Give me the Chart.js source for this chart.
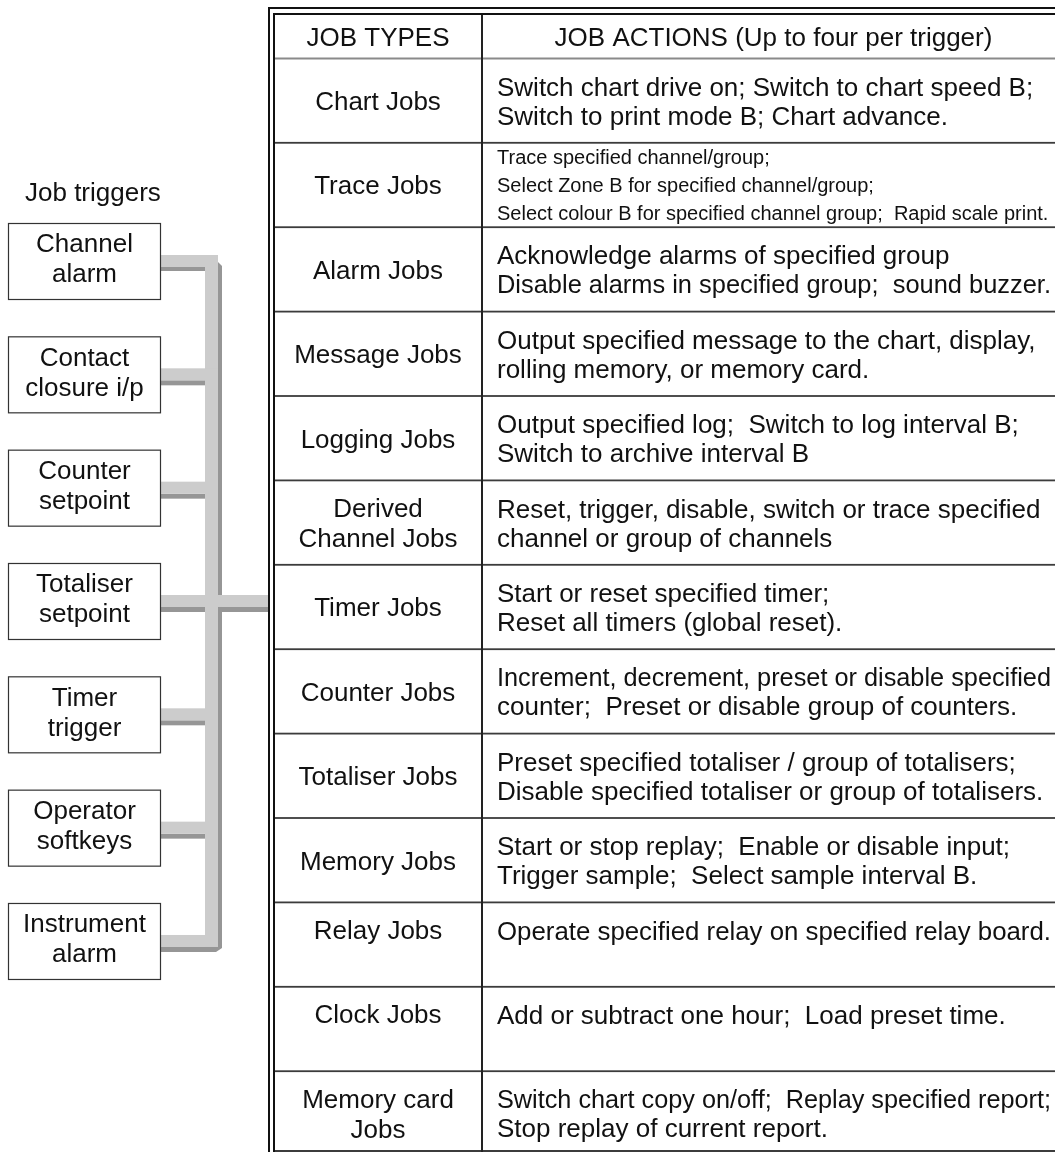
<!DOCTYPE html>
<html>
<head>
<meta charset="utf-8">
<script src="https://cdn.jsdelivr.net/npm/chart.js@4/dist/chart.umd.min.js"></script>
<style>
  body { margin: 0; background: #fff; }
  #wrap { width: 1055px; height: 1152px; position: relative; }
</style>
</head>
<body>
<div id="wrap"><canvas id="diagram"></canvas></div>
<script>
// text content of the diagram
const triggerTitle = 'Job triggers';
const triggers = [
  ['Channel', 'alarm'],
  ['Contact', 'closure i/p'],
  ['Counter', 'setpoint'],
  ['Totaliser', 'setpoint'],
  ['Timer', 'trigger'],
  ['Operator', 'softkeys'],
  ['Instrument', 'alarm']
];
const headers = ['JOB TYPES', 'JOB ACTIONS (Up to four per trigger)'];
const jobTypes = [
  ['Chart Jobs'],
  ['Trace Jobs'],
  ['Alarm Jobs'],
  ['Message Jobs'],
  ['Logging Jobs'],
  ['Derived', 'Channel Jobs'],
  ['Timer Jobs'],
  ['Counter Jobs'],
  ['Totaliser Jobs'],
  ['Memory Jobs'],
  ['Relay Jobs', ''],
  ['Clock Jobs', ''],
  ['Memory card', 'Jobs']
];
const jobActions = [
  ['Switch chart drive on; Switch to chart speed B;', 'Switch to print mode B; Chart advance.'],
  ['Trace specified channel/group;', 'Select Zone B for specified channel/group;', 'Select colour B for specified channel group;  Rapid scale print.'],
  ['Acknowledge alarms of specified group', 'Disable alarms in specified group;  sound buzzer.'],
  ['Output specified message to the chart, display,', 'rolling memory, or memory card.'],
  ['Output specified log;  Switch to log interval B;', 'Switch to archive interval B'],
  ['Reset, trigger, disable, switch or trace specified', 'channel or group of channels'],
  ['Start or reset specified timer;', 'Reset all timers (global reset).'],
  ['Increment, decrement, preset or disable specified', 'counter;  Preset or disable group of counters.'],
  ['Preset specified totaliser / group of totalisers;', 'Disable specified totaliser or group of totalisers.'],
  ['Start or stop replay;  Enable or disable input;', 'Trigger sample;  Select sample interval B.'],
  ['Operate specified relay on specified relay board.', ''],
  ['Add or subtract one hour;  Load preset time.', ''],
  ['Switch chart copy on/off;  Replay specified report;', 'Stop replay of current report.']
];

const FONT = '"Liberation Sans", Arial, sans-serif';
const LIGHT = '#cccccc';
const DARK = '#969696';

const diagramPlugin = {
  id: 'diagram',
  afterDraw(chart) {
    const ctx = chart.ctx;
    const xs = chart.scales.x, ys = chart.scales.y;
    const px = v => xs.getPixelForValue(v);
    const py = v => ys.getPixelForValue(v);

    function rect(x0, y0, x1, y1, color) {
      ctx.fillStyle = color;
      ctx.fillRect(px(x0), py(y0), px(x1) - px(x0), py(y1) - py(y0));
    }
    function poly(pts, color) {
      ctx.beginPath();
      pts.forEach((p, i) => i ? ctx.lineTo(px(p[0]), py(p[1])) : ctx.moveTo(px(p[0]), py(p[1])));
      ctx.closePath();
      ctx.fillStyle = color;
      ctx.fill();
    }
    function lines(arr, x, center, size, spacing, align, maxW) {
      ctx.font = size + 'px ' + FONT;
      ctx.fillStyle = '#111';
      ctx.textAlign = align;
      ctx.textBaseline = 'alphabetic';
      arr.forEach((t, j) => {
        const c = center + (j - (arr.length - 1) / 2) * spacing;
        if (maxW) ctx.fillText(t, px(x), py(c + 0.36 * size), maxW);
        else ctx.fillText(t, px(x), py(c + 0.36 * size));
      });
    }

    ctx.save();

    // ---- job triggers column
    const boxL = 8, boxR = 160, boxTop0 = 223, boxPitch = 113.33, boxH = 76;
    const centers = triggers.map((t, i) => boxTop0 + i * boxPitch + boxH / 2);
    const last = centers.length - 1;
    const mid = 3;
    const busL = 205, busR = 218, shR = 222, tableX = 268;

    // dark shadows first
    poly([[busR, centers[0] + 1], [shR, centers[0] + 5], [shR, centers[last] + 7],
          [216, centers[last] + 11], [boxR, centers[last] + 11], [boxR, centers[last] + 6],
          [busR, centers[last] + 6]], DARK);
    centers.forEach((c, i) => {
      if (i > 0 && i < last) rect(boxR, c + 6, busL, c + 11, DARK);
    });
    rect(shR, centers[mid] + 6, tableX, centers[mid] + 11, DARK);
    rect(boxR, centers[0] + 6, busL, centers[0] + 10, DARK);

    // light bus
    rect(busL, centers[0] - 6, busR, centers[last] + 6, LIGHT);
    poly([[boxR, centers[0] - 6], [busR - 6, centers[0] - 6], [busR, centers[0]],
          [busR, centers[0] + 6], [boxR, centers[0] + 6]], LIGHT);
    centers.forEach((c, i) => {
      if (i > 0) rect(boxR, c - 6, busR, c + 6, LIGHT);
    });
    rect(busL, centers[mid] - 6, tableX, centers[mid] + 6, LIGHT);

    // boxes
    ctx.lineWidth = 1.2;
    ctx.strokeStyle = '#333';
    triggers.forEach((t, i) => {
      const top = boxTop0 + i * boxPitch;
      ctx.fillStyle = '#fff';
      ctx.fillRect(px(boxL), py(top), px(boxR) - px(boxL), py(top + boxH) - py(top));
      ctx.strokeRect(px(boxL) + 0.5, py(top) + 0.5, px(boxR) - px(boxL), py(top + boxH) - py(top));
      lines(t, (boxL + boxR) / 2 + 0.5, centers[i] - 3, 26, 30, 'center');
    });
    lines([triggerTitle], 25, 192, 26, 30, 'left');

    // ---- table
    const right = 1055, colX = 482, bottom = 1152;
    const headTop = 15, headBot = 58.5, rowH = 84.4;
    rect(268, 7, 270, bottom, '#111');
    rect(268, 7, right, 9, '#111');
    rect(273, 13, 275, bottom, '#111');
    rect(273, 13, right, 15, '#111');
    rect(275, headBot - 1, right, headBot + 1, '#8a8a8a');
    for (let k = 1; k < jobTypes.length; k++) {
      const y = headBot + k * rowH;
      rect(275, y - 1, right, y + 0.8, '#3c3c3c');
    }
    rect(275, 1150, right, 1152, '#3c3c3c');
    rect(colX - 1, 15, colX + 1, bottom, '#222');

    const c1 = (274 + colX) / 2, c2 = (colX + 1065) / 2;
    lines([headers[0]], c1, (headTop + headBot) / 2, 26, 30, 'center');
    lines([headers[1]], c2, (headTop + headBot) / 2, 26, 30, 'center');

    const textW = 1051 - 497;
    jobTypes.forEach((jt, k) => {
      const center = headBot + k * rowH + rowH / 2;
      lines(jt, c1, center, 26, 30, 'center');
      const acts = jobActions[k];
      if (acts.length > 2) lines(acts, 497, center, 20, 28, 'left', textW);
      else lines(acts, 497, center, 26, 29, 'left', textW);
    });

    ctx.restore();
  }
};

new Chart(document.getElementById('diagram'), {
  type: 'scatter',
  data: { datasets: [] },
  options: {
    responsive: true,
    maintainAspectRatio: false,
    animation: false,
    layout: { padding: 0 },
    plugins: { legend: { display: false }, tooltip: { enabled: false } },
    scales: {
      x: { type: 'linear', min: 0, max: 1055, display: false },
      y: { type: 'linear', min: 0, max: 1152, reverse: true, display: false }
    }
  },
  plugins: [diagramPlugin]
});
</script>
</body>
</html>
